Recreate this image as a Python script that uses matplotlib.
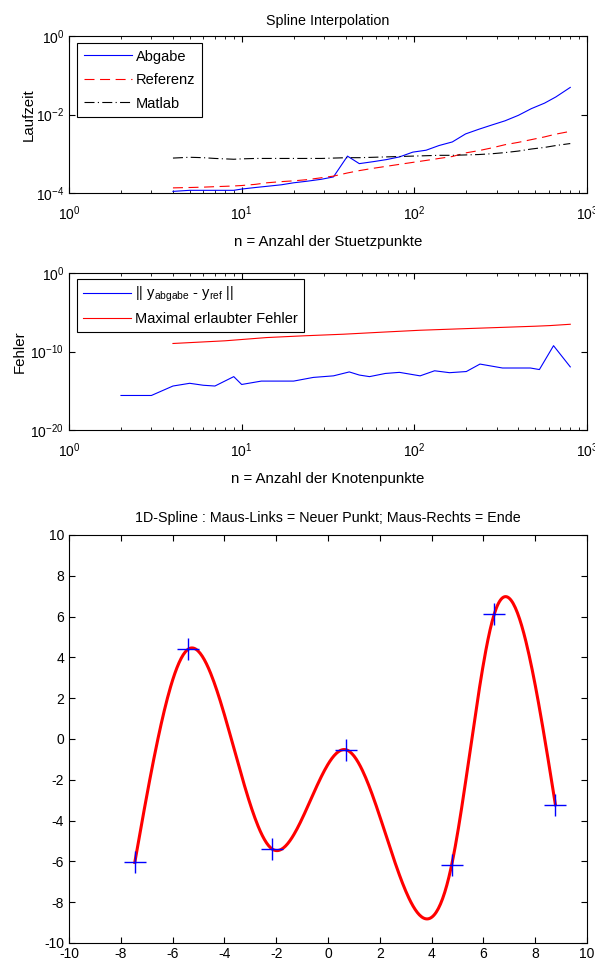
#!/usr/bin/env python3

"""
Spline-Praktikum: Laufzeit, Fehler und 1D-Spline durch Mausklick-Punkte.
"""

import numpy as np
import matplotlib
matplotlib.use("Agg")
import matplotlib.pyplot as plt
from matplotlib.ticker import LogLocator, NullLocator, MultipleLocator

plt.rcParams['font.family'] = ['Liberation Sans', 'DejaVu Sans']
plt.rcParams['font.size'] = 10.5
plt.rcParams['xtick.labelsize'] = 10
plt.rcParams['ytick.labelsize'] = 10
plt.rcParams['axes.labelsize'] = 10.8
plt.rcParams['axes.titlesize'] = 10.3
plt.rcParams['legend.fontsize'] = 10.5
plt.rcParams['axes.linewidth'] = 0.8
plt.rcParams['axes.unicode_minus'] = False

# --- Laufzeit (oben) ---
n_stuetz = [4, 5, 6, 7, 8, 9, 10, 12, 14, 17, 20, 24, 29, 34, 41, 48, 58, 69,
            82, 98, 117, 139, 166, 198, 236, 281, 335, 400, 476, 568, 660, 800]
t_abgabe = [1.10e-4, 1.17e-4, 1.17e-4, 1.17e-4, 1.17e-4, 1.17e-4, 1.26e-4, 1.38e-4,
            1.48e-4, 1.62e-4, 1.82e-4, 2.00e-4, 2.24e-4, 2.57e-4, 8.70e-4, 5.60e-4,
            6.30e-4, 7.10e-4, 8.30e-4, 1.10e-3, 1.23e-3, 1.62e-3, 2.00e-3, 3.20e-3,
            4.20e-3, 5.40e-3, 6.90e-3, 9.50e-3, 1.41e-2, 1.95e-2, 2.80e-2, 4.90e-2]
t_referenz = [1.35e-4, 1.38e-4, 1.41e-4, 1.45e-4, 1.48e-4, 1.51e-4, 1.55e-4, 1.66e-4,
              1.82e-4, 1.95e-4, 2.04e-4, 2.19e-4, 2.45e-4, 2.69e-4, 3.24e-4, 3.72e-4,
              4.27e-4, 4.79e-4, 5.37e-4, 6.03e-4, 6.76e-4, 7.59e-4, 8.51e-4, 1.05e-3,
              1.20e-3, 1.41e-3, 1.70e-3, 1.95e-3, 2.29e-3, 2.69e-3, 3.16e-3, 3.72e-3]
t_matlab = [7.76e-4, 8.13e-4, 7.94e-4, 7.59e-4, 7.41e-4, 7.24e-4, 7.41e-4, 7.59e-4,
            7.59e-4, 7.59e-4, 7.59e-4, 7.59e-4, 7.59e-4, 7.76e-4, 7.94e-4, 7.94e-4,
            8.13e-4, 8.32e-4, 8.51e-4, 8.71e-4, 8.91e-4, 9.12e-4, 9.12e-4, 9.33e-4,
            9.55e-4, 1.00e-3, 1.07e-3, 1.17e-3, 1.32e-3, 1.45e-3, 1.62e-3, 1.82e-3]

# --- Fehler (Mitte) ---
n_knoten = [2, 3, 4, 5, 6, 7, 9, 10, 13, 20, 26, 34, 42, 48, 55, 68, 82, 108,
            131, 160, 200, 240, 324, 470, 530, 640, 800]
err_abgabe = [2.5e-16, 2.5e-16, 4.0e-15, 8.9e-15, 5.0e-15, 4.0e-15, 6.3e-14, 6.3e-15,
              1.7e-14, 1.7e-14, 5.0e-14, 7.9e-14, 2.5e-13, 1.0e-13, 6.3e-14, 1.6e-13,
              2.2e-13, 7.9e-14, 3.5e-13, 2.0e-13, 2.8e-13, 2.5e-12, 7.9e-13, 7.9e-13,
              5.0e-13, 5.5e-10, 1.1e-12]
n_fehler_max = [4, 8, 14, 23, 39, 65, 108, 180, 300, 500, 610, 800]
err_max = [1.05e-9, 2.3e-9, 6.0e-9, 1.0e-8, 1.6e-8, 2.9e-8, 5.1e-8, 7.6e-8,
           1.12e-7, 1.66e-7, 2.0e-7, 2.95e-7]

# --- Mausklick-Punkte (unten) ---
klick_x = [-7.46, -5.40, -2.16, 0.70, 4.77, 6.42, 8.78]
klick_y = [-6.05, 4.40, -5.39, -0.53, -6.20, 6.13, -3.22]


def natural_spline(x, y, xx):
    # natuerlicher kubischer Spline (M = 0 an den Raendern)
    x = np.asarray(x, float)
    y = np.asarray(y, float)
    m = len(x)
    h = np.diff(x)
    A = np.zeros((m, m))
    b = np.zeros(m)
    A[0, 0] = A[-1, -1] = 1.0
    for i in range(1, m - 1):
        A[i, i - 1] = h[i - 1]
        A[i, i] = 2 * (h[i - 1] + h[i])
        A[i, i + 1] = h[i]
        b[i] = 6 * ((y[i + 1] - y[i]) / h[i] - (y[i] - y[i - 1]) / h[i - 1])
    M = np.linalg.solve(A, b)
    k = np.clip(np.searchsorted(x, xx) - 1, 0, m - 2)
    hk = h[k]
    a = x[k + 1] - xx
    c = xx - x[k]
    return (M[k] * a**3 / (6 * hk) + M[k + 1] * c**3 / (6 * hk)
            + (y[k] / hk - M[k] * hk / 6) * a + (y[k + 1] / hk - M[k + 1] * hk / 6) * c)


def matlab_box(ax, xpad=8):
    ax.tick_params(which='both', direction='in', top=True, right=True)
    ax.tick_params(which='major', length=4)
    ax.tick_params(which='minor', length=2)
    ax.tick_params(axis='x', which='major', pad=xpad)


fig = plt.figure(figsize=(5.95, 9.66), dpi=100)

# Laufzeit
ax1 = fig.add_axes([69 / 595, 1 - 193 / 966, 518 / 595, 157 / 966])
ax1.loglog(n_stuetz, t_abgabe, color='b', lw=0.8, label='Abgabe')
ax1.loglog(n_stuetz, t_referenz, color='r', lw=0.8, ls=(0, (9, 5)), label='Referenz')
ax1.loglog(n_stuetz, t_matlab, color='k', lw=0.8, ls=(0, (9, 3, 1, 3)), label='Matlab')
ax1.set_xlim(1, 1000)
ax1.set_ylim(1e-4, 1)
ax1.yaxis.set_major_locator(LogLocator(base=100))
ax1.yaxis.set_minor_locator(NullLocator())
matlab_box(ax1)
ax1.set_title('Spline Interpolation', pad=8)
ax1.set_xlabel('n = Anzahl der Stuetzpunkte', labelpad=9)
ax1.set_ylabel('Laufzeit', labelpad=0)
leg1 = ax1.legend(loc='upper left', bbox_to_anchor=(8 / 518, 1 - 7 / 157),
                  borderaxespad=0, fancybox=False, framealpha=1, edgecolor='k',
                  handlelength=3.3, handletextpad=0.3, labelspacing=0.65,
                  borderpad=0.45)
leg1.get_frame().set_linewidth(0.8)

# Fehler
ax2 = fig.add_axes([69 / 595, 1 - 430 / 966, 518 / 595, 157 / 966])
ax2.loglog(n_knoten, err_abgabe, color='b', lw=0.8,
           label=r'|| y$_{\mathregular{abgabe}}$ - y$_{\mathregular{ref}}$ ||')
ax2.loglog(n_fehler_max, err_max, color='r', lw=0.8, label='Maximal erlaubter Fehler')
ax2.set_xlim(1, 1000)
ax2.set_ylim(1e-20, 1)
ax2.yaxis.set_major_locator(LogLocator(base=1e10))
ax2.yaxis.set_minor_locator(NullLocator())
matlab_box(ax2)
ax2.set_xlabel('n = Anzahl der Knotenpunkte', labelpad=9)
ax2.set_ylabel('Fehler', labelpad=3)
leg2 = ax2.legend(loc='upper left', bbox_to_anchor=(8 / 518, 1 - 6 / 157),
                  borderaxespad=0, fancybox=False, framealpha=1, edgecolor='k',
                  handlelength=3.3, handletextpad=0.3, labelspacing=0.55,
                  borderpad=0.4)
leg2.get_frame().set_linewidth(0.8)

# 1D-Spline
ax3 = fig.add_axes([69 / 595, 1 - 943 / 966, 518 / 595, 408 / 966])
xx = np.linspace(klick_x[0], klick_x[-1], 400)
ax3.plot(xx, natural_spline(klick_x, klick_y, xx), color='r', lw=2.2)
ax3.plot(klick_x, klick_y, '+', color='b', ms=16, mew=1)
ax3.set_xlim(-10, 10)
ax3.set_ylim(-10, 10)
ax3.xaxis.set_major_locator(MultipleLocator(2))
ax3.yaxis.set_major_locator(MultipleLocator(2))
matlab_box(ax3, xpad=3)
ax3.set_title('1D-Spline : Maus-Links = Neuer Punkt; Maus-Rechts = Ende', pad=9)

fig.savefig('out.png', dpi=100)
